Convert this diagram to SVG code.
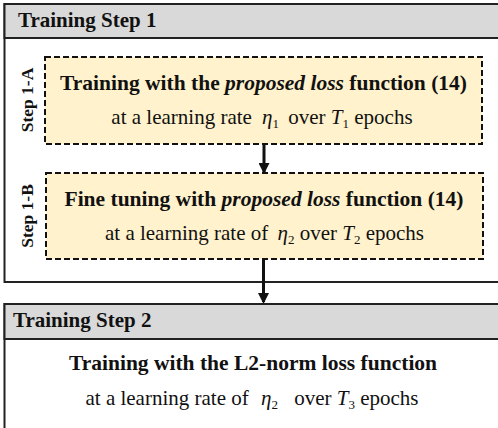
<svg xmlns="http://www.w3.org/2000/svg" width="498" height="428" viewBox="0 0 498 428">
<defs>
<style>
.outer{fill:#ffffff;stroke:#222;stroke-width:2}
.hdr{fill:#d9d9d9;stroke:#222;stroke-width:2}
.dash{fill:#fff2cc;stroke:#111;stroke-width:2;stroke-dasharray:6 3}
.t{font-family:"Liberation Serif","Times New Roman",serif;fill:#111}
.title{font-size:21px;font-weight:bold}
.b{font-size:21.5px;font-weight:bold}
.r{font-size:21px}
.side{font-size:17.5px;font-weight:bold}
.it{font-style:italic}
.sub{font-size:13px;font-style:normal}
.conn{stroke:#111;stroke-width:3;fill:none}
</style>
<marker id="ah" markerWidth="11" markerHeight="11" refX="9" refY="5.5" orient="auto" markerUnits="userSpaceOnUse" viewBox="0 0 11 11">
<path d="M0,0 L11,5.5 L0,11 Z" fill="#111"/>
</marker>
</defs>

<g id="step1">
<rect class="outer" x="4.5" y="4" width="500" height="278"/>
<rect class="hdr" x="4.5" y="4" width="500" height="34"/>
<text class="t title" x="18" y="27">Training Step 1</text>
</g>

<g id="step1a">
<rect class="dash" x="45" y="57" width="437" height="87"/>
<text class="t side" x="33" y="100" text-anchor="middle" transform="rotate(-90 33 100)">Step 1-A</text>
<text class="t b" x="263.5" y="90" text-anchor="middle">Training with the <tspan class="it">proposed loss</tspan> function (14)</text>
<text class="t r" x="262" y="124" text-anchor="middle">at a learning rate <tspan class="it" dx="5">η</tspan><tspan class="sub" dy="4">1</tspan><tspan dy="-4" dx="4"> over </tspan><tspan class="it">T</tspan><tspan class="sub" dy="4">1</tspan><tspan dy="-4"> epochs</tspan></text>
</g>

<g id="step1b">
<rect class="dash" x="46" y="173" width="437" height="86"/>
<text class="t side" x="33" y="216" text-anchor="middle" transform="rotate(-90 33 216)">Step 1-B</text>
<text class="t b" x="264" y="206" text-anchor="middle">Fine tuning with <tspan class="it">proposed loss</tspan> function (14)</text>
<text class="t r" x="264.5" y="240" text-anchor="middle">at a learning rate of <tspan class="it" dx="4">η</tspan><tspan class="sub" dy="4">2</tspan><tspan dy="-4"> over </tspan><tspan class="it">T</tspan><tspan class="sub" dy="4">2</tspan><tspan dy="-4"> epochs</tspan></text>
</g>

<g id="step2">
<rect class="outer" x="4.5" y="304" width="500" height="140"/>
<rect class="hdr" x="4.5" y="304" width="500" height="35"/>
<text class="t title" x="13" y="327">Training Step 2</text>
<text class="t b" x="253" y="370" text-anchor="middle">Training with the L2-norm loss function</text>
<text class="t r" x="252" y="405" text-anchor="middle">at a learning rate of <tspan class="it" dx="7">η</tspan><tspan class="sub" dy="4">2</tspan><tspan dy="-4" dx="11"> over </tspan><tspan class="it">T</tspan><tspan class="sub" dy="4">3</tspan><tspan dy="-4"> epochs</tspan></text>
</g>

<g id="connectors">
<line class="conn" x1="264" y1="145" x2="264" y2="172" marker-end="url(#ah)"/>
<line class="conn" x1="263.5" y1="260" x2="263.5" y2="302" marker-end="url(#ah)"/>
</g>
</svg>
